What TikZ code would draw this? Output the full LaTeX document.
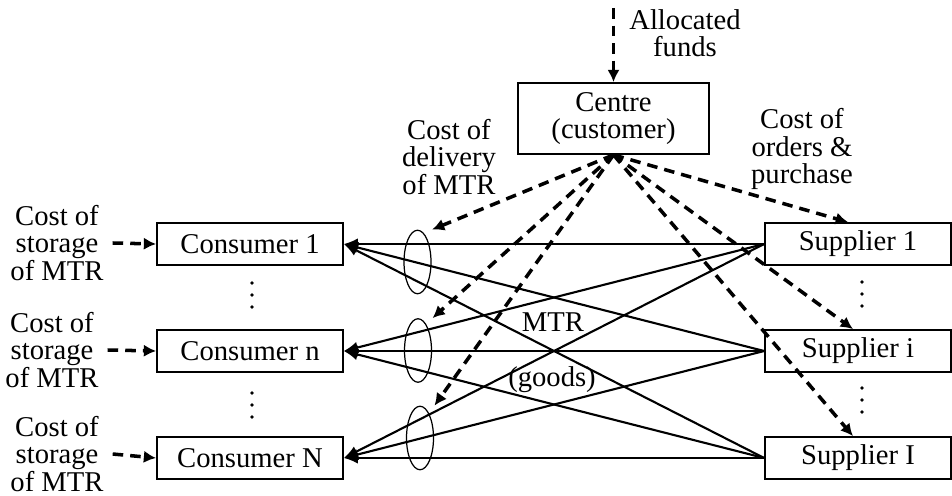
\documentclass[tikz,border=0pt]{standalone}
\usepackage{fontspec}
\setmainfont{Liberation Serif}
\usetikzlibrary{arrows.meta, shapes.geometric}

\begin{document}
\begin{tikzpicture}[x=0.02cm, y=-0.02cm, line cap=butt,
    %Style
    every node/.style={font=\fontsize{16.3}{15.5}\selectfont},
    unit/.style={draw, line width=1pt, minimum width=3.72cm, minimum height=0.84cm, inner sep=0pt},
    cost text/.style={align=center, inner sep=2pt},
    goods line/.style={line width=1.2pt, -{Latex[length=8pt,width=6.5pt]}},
    money line/.style={line width=2pt, dash pattern=on 6pt off 4pt, -{Latex[length=7pt,width=7pt]}},
    bundle/.style={draw, ellipse, line width=0.7pt, inner sep=0pt, minimum width=0.54cm, minimum height=1.27cm}]
    \useasboundingbox (0,0) rectangle (952,496);

    %The units
    \node[unit] (c1) at (250,244) {Consumer 1};
    \node[unit] (cn) at (250,351) {Consumer n};
    \node[unit] (cN) at (250,458) {Consumer N};
    \node[unit] (s1) at (858,244) {Supplier 1};
    \node[unit] (si) at (858,351) {Supplier i};
    \node[unit] (sI) at (858,458) {Supplier I};
    \node[unit, minimum width=3.82cm, minimum height=1.42cm, align=center] (centre) at (613.5,118.5) {Centre\\(customer)};

    %Flows of goods
    \foreach \s in {s1,si,sI}
      \foreach \c in {c1,cn,cN}
        \draw[goods line] (\s.west) -- (\c.east);
    \node[bundle] (b1) at (417.5,262) {};
    \node[bundle] (b2) at (418,350.5) {};
    \node[bundle] (b3) at (420,438) {};
    \node (mtr) at (553,322) {MTR};
    \node (goods) at (552,380) {(goods)};

    %Dots
    \foreach \x/\y in {252/283, 252/393, 862/282, 862/388}
      \foreach \d in {0,12,24}
        \fill (\x,\y+\d) circle [radius=1.1pt];

    %Costs
    \node[cost text] (funds) at (685,33) {Allocated\\funds};
    \node[cost text] (delivery) at (449,157) {Cost of\\delivery\\of MTR};
    \node[cost text] (orders) at (802,149) {Cost of\\orders \&\\purchase};
    \coordinate (fundsin) at (613.5,8);
    \draw[money line] (fundsin) -- (centre.north);
    \foreach \b in {b1,b2,b3}
      \draw[money line] (centre.south) -- ([xshift=0.29cm]\b.north);
    \draw[money line] (centre.south) -- ([xshift=-0.2cm]s1.north);
    \draw[money line] (centre.south) -- ([xshift=-0.1cm]si.north);
    \draw[money line] (centre.south) -- ([xshift=-0.1cm]sI.north);
    \foreach \c/\x/\y in {c1/57/243, cn/52/350, cN/57/454}
    {
      \node[cost text, inner xsep=5pt, inner ysep=1pt] (st\c) at (\x,\y) {Cost of\\storage\\of MTR};
      \draw[money line] (st\c.east) -- (\c.west);
    }
\end{tikzpicture}
\end{document}
